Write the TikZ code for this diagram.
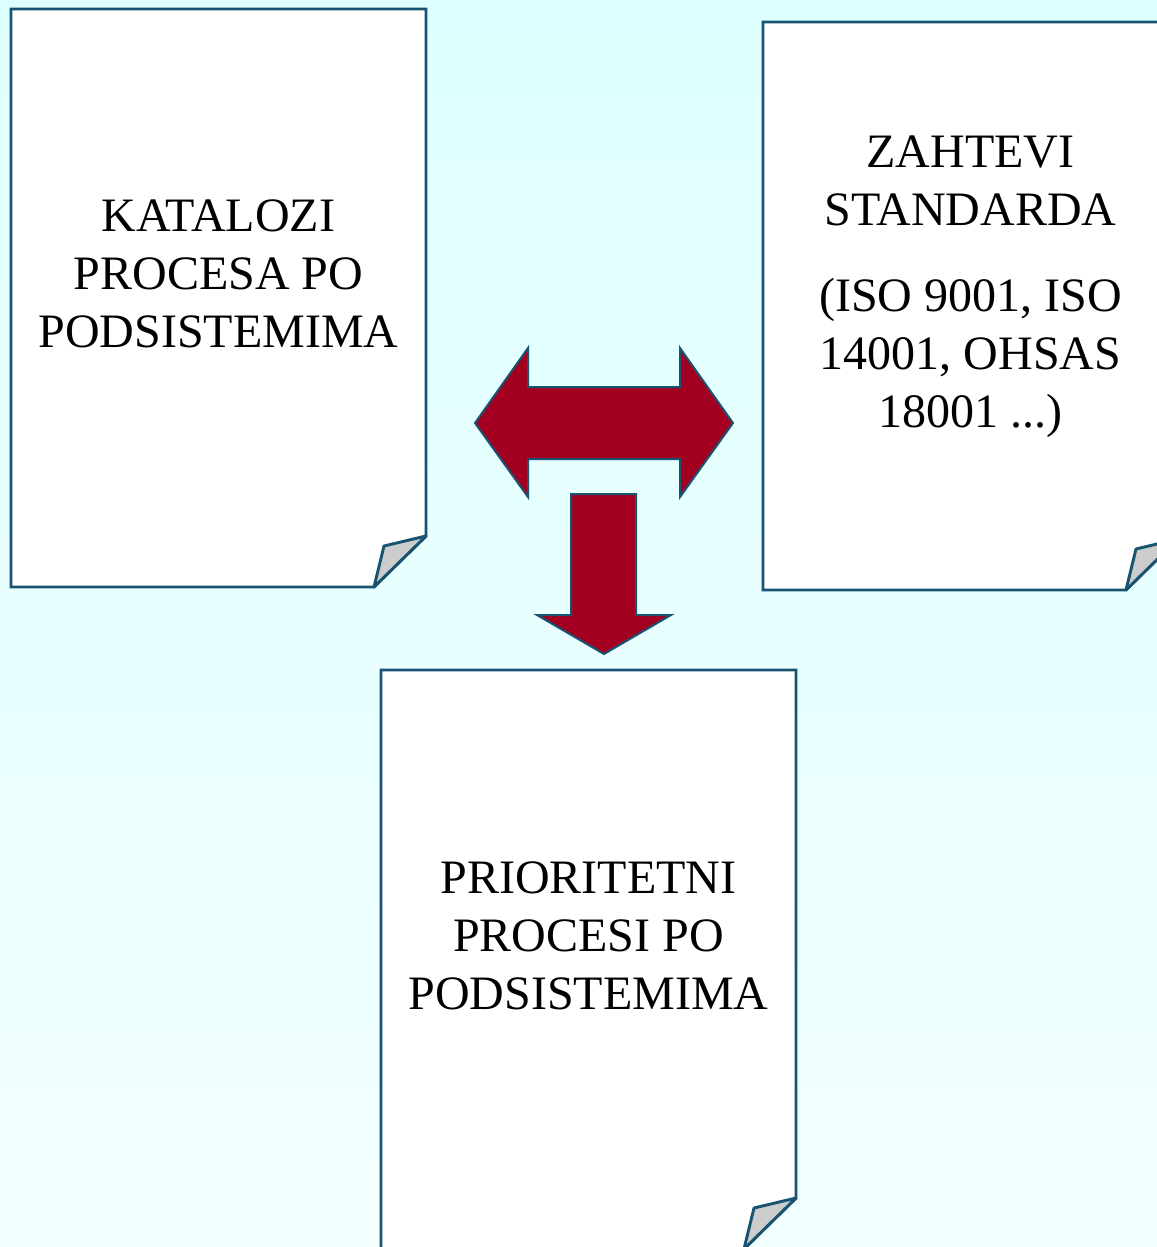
\documentclass[tikz,border=0pt]{standalone}
\usepackage{fontspec}
\setmainfont{Liberation Serif}
\usetikzlibrary{positioning}

\definecolor{pageline}{RGB}{24,84,114}
\definecolor{arrowred}{RGB}{163,0,33}
\definecolor{flapgray}{RGB}{204,204,204}
\definecolor{bgtop}{RGB}{222,255,255}
\definecolor{bgbot}{RGB}{242,255,255}

\tikzset{
  pagebox/.style={fill=white, draw=pageline, line width=2.2pt, line join=miter},
  flapbox/.style={fill=flapgray, draw=pageline, line width=2.2pt, line join=round},
  blockarrow/.style={fill=arrowred, draw=pageline, line width=1.5pt},
  pagetext/.style={align=center, inner sep=0pt, font=\fontsize{36}{43.5}\selectfont}
}

% page with folded corner: #1,#2 top left, #3,#4 bottom right
\newcommand{\docpage}[4]{%
  \draw[pagebox] (#1,#2) -- (#3,#2) -- (#3,#4-51) -- (#3-52,#4) -- (#1,#4) -- cycle;
  \draw[flapbox] (#3,#4-51) -- (#3-42,#4-41) -- (#3-52,#4) -- cycle;
}

\begin{document}
\begin{tikzpicture}[x=0.75pt, y=-0.75pt]
\useasboundingbox (0,0) rectangle (1157,1247);
\clip (0,0) rectangle (1157,1247);
% background
\shade[top color=bgtop, bottom color=bgbot] (0,0) rectangle (1157,1247);
% pages
\docpage{11}{9}{426}{587}
\docpage{763}{22}{1178}{590}
\docpage{381}{670}{796}{1249}
% texts
\node[pagetext] (katalozi) at (218.5,274) {KATALOZI\\PROCESA PO\\PODSISTEMIMA};
\node[pagetext] (zahtevi) at (970.5,287) {ZAHTEVI\\STANDARDA\\[21pt](ISO 9001, ISO\\14001, OHSAS\\18001 ...)};
\node[pagetext] (prioritetni) at (588.5,936) {PRIORITETNI\\PROCESI PO\\PODSISTEMIMA};
% double arrow between the upper pages
\draw[blockarrow] (475,423) -- (528,348) -- (528,387) -- (680,387) -- (680,348)
  -- (733,423) -- (680,497) -- (680,459) -- (528,459) -- (528,497) -- cycle;
% arrow down to the lower page
\draw[blockarrow] (571,494) -- (636,494) -- (636,615) -- (671,615) -- (604,654)
  -- (537,615) -- (571,615) -- cycle;
\end{tikzpicture}
\end{document}
